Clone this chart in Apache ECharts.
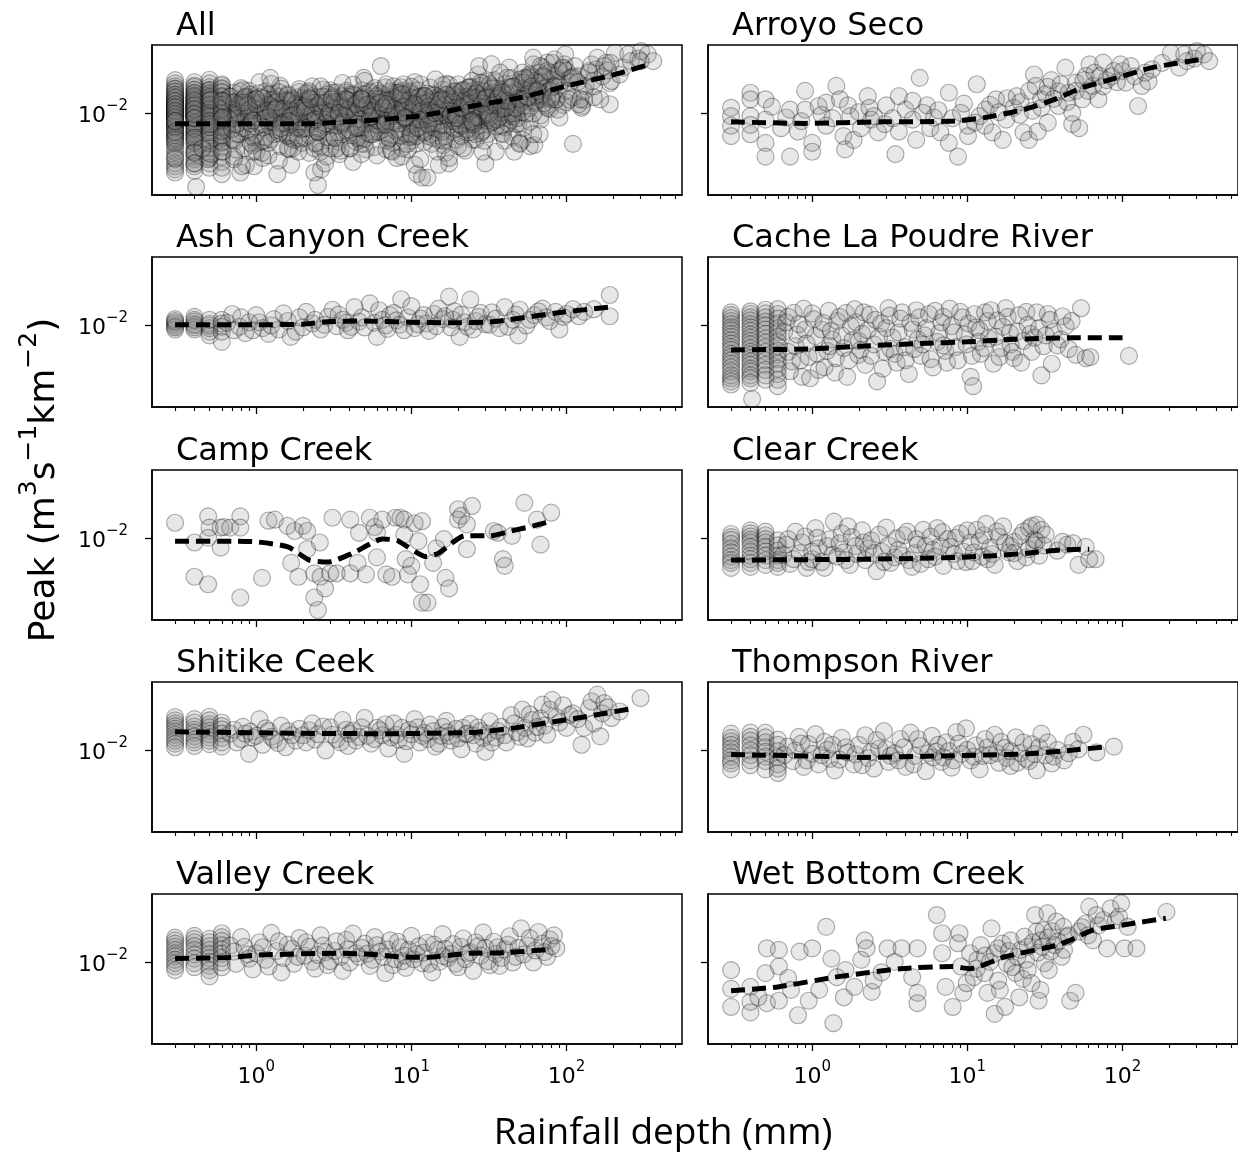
<!DOCTYPE html>
<html><head><meta charset="utf-8">
<script src="https://cdn.jsdelivr.net/npm/echarts@6/dist/echarts.min.js"></script>
<style>html,body{margin:0;padding:0;background:#fff}#c{width:1238px;height:1152px}</style>
</head><body><div id="c"></div>
<script>
// ---------- labels ----------
const panelTitles = ['All','Arroyo Seco','Ash Canyon Creek','Cache La Poudre River','Camp Creek','Clear Creek','Shitike Ceek','Thompson River','Valley Creek','Wet Bottom Creek'];
const xMajorTicks = [1, 10, 100];
const xTickExponents = ['0', '1', '2'];
const xMinorTicks = [0.3,0.4,0.5,0.6,0.7,0.8,0.9,2,3,4,5,6,7,8,9,20,30,40,50,60,70,80,90,200,300,400,500];
const yTicks = [0.01];
const yTickExponents = ['−2'];
const xTitle = 'Rainfall depth (mm)';
const yTitleRich = '{b|Peak (m}{s|3}{b|s}{s|−1}{b|km}{s|−2}{b|)}';

// ---------- station data: [rainfall depth (mm), peak] ----------
const arroyoSeco = [[0.3,0.0108],[0.3,0.0082],[0.3,0.0070],[0.3,0.0095],[0.4,0.0136],[0.4,0.0123],[0.4,0.0095],[0.4,0.0072],[0.4,0.0083],[0.5,0.0123],[0.5,0.0063],[0.5,0.0051],[0.5,0.0090],[0.55,0.0110],
[0.63,0.0079],[0.68,0.0093],[0.72,0.0105],[0.72,0.0051],[0.81,0.0075],[0.85,0.0088],[0.9,0.0105],[0.9,0.0140],[1.0,0.0063],[1.0,0.0055],[1.1,0.0111],[1.15,0.0097],[1.23,0.0117],[1.23,0.0082],
[1.35,0.0092],[1.43,0.0151],[1.51,0.0123],[1.59,0.0070],[1.63,0.0057],[1.7,0.0112],[1.76,0.0095],[1.85,0.0066],[2.0,0.0101],[2.06,0.0079],[2.28,0.0129],[2.34,0.0108],[2.4,0.0090],[2.5,0.0095],[2.66,0.0074],
[2.94,0.0084],[3.0,0.0112],[3.3,0.0092],[3.44,0.0053],[3.62,0.0129],[3.62,0.0075],[4.0,0.0105],[4.44,0.0120],[4.44,0.0090],[4.93,0.0171],[4.68,0.0066],[5.2,0.0100],[5.5,0.0112],[5.76,0.0079],[6.1,0.0093],
[6.5,0.0104],[6.7,0.0074],[7.6,0.0136],[7.6,0.0063],[8.0,0.0092],[8.7,0.0051],[9.1,0.0100],[9.5,0.0115],[10.1,0.0082],[10.1,0.0070],[11.2,0.0086],[11.5,0.0155],[12,0.0095],[13.1,0.0105],[13,0.0082],
[14,0.0113],[14.5,0.0074],[15.3,0.0123],[16,0.0101],[16.9,0.0066],[17.8,0.0090],[18,0.0125],[19.8,0.0108],[20.8,0.0129],[21.8,0.0097],[22,0.0118],[23,0.0074],[24.9,0.0066],[25,0.0140],[26.3,0.0103],[26.9,0.0180],
[27.6,0.0151],[28.4,0.0075],[29.9,0.0123],[30,0.0108],[32,0.0133],[33,0.0086],[33,0.0149],[34.8,0.0165],[36,0.0124],[38.6,0.0111],[38.6,0.0139],[40,0.0155],[42.8,0.0200],[44,0.0118],[45,0.0136],[47.4,0.0084],
[47.4,0.0100],[50,0.0159],[50,0.0140],[52.6,0.0079],[55,0.0123],[56,0.0165],[58,0.0176],[60,0.0140],[61.3,0.0210],[64.5,0.0151],[66,0.0185],[70,0.0123],[71.6,0.0176],[75,0.0216],[75,0.0150],[79,0.0165],
[85,0.0175],[88,0.0190],[92,0.0160],[97,0.0210],[100,0.0190],[105,0.0159],[113,0.0205],[120,0.0175],[126,0.0111],[133,0.0151],[140,0.0185],[147,0.0162],[155,0.0195],[180,0.0215],[205,0.0251],
[232,0.0200],[250,0.0245],[260,0.0221],[290,0.0230],[302,0.0258],[334,0.0245],[362,0.0221]];

const ashCanyon = [[0.3,0.0104],[0.3,0.0098],[0.3,0.0093],[0.3,0.0109],[0.3,0.0101],[0.3,0.0096],[0.3,0.0106],[0.4,0.0113],[0.4,0.0105],[0.4,0.0099],[0.4,0.0093],[0.4,0.0101],[0.4,0.0096],[0.4,0.0108],
[0.5,0.0102],[0.5,0.0090],[0.5,0.0085],[0.5,0.0095],[0.5,0.0099],[0.5,0.0108],[0.6,0.0108],[0.6,0.0097],[0.6,0.0077],[0.6,0.0102],[0.6,0.0090],[0.65,0.0103],[0.7,0.0118],[0.72,0.0092],[0.78,0.0097],
[0.8,0.0112],[0.85,0.0088],[0.9,0.0104],[0.95,0.0092],[1.0,0.0116],[1.05,0.0104],[1.1,0.0095],[1.2,0.0087],[1.25,0.0099],[1.3,0.0109],[1.4,0.0093],[1.5,0.0119],[1.6,0.0106],[1.67,0.0083],[1.8,0.0090],
[1.9,0.0112],[2.0,0.0096],[2.1,0.0122],[2.3,0.0102],[2.4,0.0108],[2.6,0.0093],[2.75,0.0100],[2.9,0.0113],[3.1,0.0126],[3.3,0.0098],[3.4,0.0117],[3.6,0.0108],[3.8,0.0103],[3.9,0.0092],[4.1,0.0097],
[4.3,0.0131],[4.6,0.0105],[4.8,0.0112],[5.0,0.0096],[5.4,0.0139],[5.8,0.0103],[6.0,0.0083],[6.2,0.0125],[6.5,0.0108],[6.8,0.0099],[7.0,0.0094],[7.3,0.0116],[7.7,0.0120],[8.0,0.0107],[8.4,0.0100],
[8.6,0.0148],[9.0,0.0092],[9.5,0.0112],[10,0.0133],[10.5,0.0095],[11,0.0101],[11.5,0.0110],[12,0.0116],[12.5,0.0102],[13,0.0091],[14,0.0118],[14.5,0.0098],[15,0.0128],[16,0.0109],[16.5,0.0114],
[17.5,0.0154],[18,0.0096],[18.5,0.0108],[19,0.0123],[20.5,0.0083],[21,0.0117],[22,0.0104],[23,0.0097],[24,0.0147],[25,0.0093],[26,0.0106],[27,0.0113],[28,0.0120],[30,0.0101],[32,0.0100],[33,0.0121],
[35,0.0110],[37,0.0095],[40,0.0131],[42,0.0097],[45,0.0108],[47,0.0117],[49,0.0085],[50,0.0126],[55,0.0099],[58,0.0108],[62,0.0116],[66,0.0123],[70,0.0128],[74,0.0112],[78,0.0106],[85,0.0122],
[90,0.0093],[95,0.0113],[100,0.0118],[110,0.0127],[120,0.0114],[130,0.0122],[150,0.0127],[190,0.0158],[190,0.0114]];

const cacheLaPoudre = [[0.3,0.0121],[0.3,0.0116],[0.3,0.0111],[0.3,0.0106],[0.3,0.0101],[0.3,0.0096],[0.3,0.0092],[0.3,0.0087],[0.3,0.0083],[0.3,0.0079],[0.3,0.0075],[0.3,0.0071],[0.3,0.0068],[0.3,0.0064],
[0.3,0.0061],[0.3,0.0058],[0.3,0.0055],[0.3,0.0052],[0.3,0.0049],[0.3,0.0046],[0.3,0.0044],[0.3,0.0042],[0.3,0.0040],
[0.4,0.0123],[0.4,0.0118],[0.4,0.0112],[0.4,0.0107],[0.4,0.0101],[0.4,0.0096],[0.4,0.0091],[0.4,0.0086],[0.4,0.0082],[0.4,0.0078],[0.4,0.0074],[0.4,0.0070],[0.4,0.0066],[0.4,0.0063],[0.4,0.0060],
[0.4,0.0057],[0.4,0.0054],[0.4,0.0051],[0.4,0.0049],[0.4,0.0046],[0.4,0.0044],[0.4,0.0041],[0.41,0.0032],
[0.5,0.0126],[0.5,0.0119],[0.5,0.0112],[0.5,0.0105],[0.5,0.0099],[0.5,0.0093],[0.5,0.0087],[0.5,0.0081],[0.5,0.0076],[0.5,0.0071],[0.5,0.0066],[0.5,0.0062],[0.5,0.0058],[0.5,0.0054],[0.5,0.0050],
[0.5,0.0046],[0.5,0.0043],
[0.6,0.0127],[0.6,0.0118],[0.6,0.0110],[0.6,0.0102],[0.6,0.0095],[0.6,0.0089],[0.6,0.0083],[0.6,0.0077],[0.6,0.0072],[0.6,0.0067],[0.6,0.0063],[0.6,0.0059],[0.6,0.0055],[0.6,0.0051],[0.6,0.0047],
[0.6,0.0043],[0.6,0.0039],
[0.66,0.0090],[0.68,0.0104],[0.7,0.0066],[0.7,0.0113],[0.72,0.0049],[0.74,0.0057],[0.76,0.0120],[0.78,0.0072],[0.8,0.0086],[0.82,0.0101],[0.84,0.0058],[0.86,0.0045],[0.88,0.0128],[0.9,0.0093],
[0.92,0.0075],[0.95,0.0061],[0.97,0.0044],[1.0,0.0119],[1.02,0.0109],[1.05,0.0084],[1.08,0.0064],[1.1,0.0050],[1.15,0.0093],[1.18,0.0103],[1.2,0.0052],[1.25,0.0067],[1.28,0.0124],[1.3,0.0072],
[1.32,0.0091],[1.35,0.0080],[1.4,0.0048],[1.42,0.0060],[1.45,0.0106],[1.5,0.0113],[1.55,0.0085],[1.6,0.0070],[1.65,0.0120],[1.68,0.0045],[1.72,0.0058],[1.78,0.0098],[1.82,0.0079],[1.88,0.0127],
[1.92,0.0104],[1.98,0.0063],[2.0,0.0078],[2.05,0.0068],[2.1,0.0087],[2.15,0.0121],[2.2,0.0054],[2.28,0.0092],[2.35,0.0117],[2.4,0.0062],[2.5,0.0074],[2.55,0.0108],[2.62,0.0042],[2.7,0.0083],
[2.78,0.0102],[2.85,0.0051],[2.95,0.0066],[3.0,0.0095],[3.1,0.0129],[3.15,0.0115],[3.2,0.0069],[3.3,0.0082],[3.4,0.0064],[3.5,0.0056],[3.6,0.0089],[3.7,0.0110],[3.8,0.0121],[3.95,0.0071],
[4.0,0.0058],[4.2,0.0047],[4.3,0.0103],[4.45,0.0093],[4.55,0.0069],[4.7,0.0125],[4.8,0.0080],[4.9,0.0112],[5.0,0.0062],[5.15,0.0074],[5.3,0.0085],[5.45,0.0095],[5.65,0.0118],[5.8,0.0059],
[6.0,0.0052],[6.2,0.0124],[6.4,0.0077],[6.6,0.0088],[6.8,0.0104],[7.0,0.0073],[7.0,0.0113],[7.2,0.0067],[7.4,0.0056],[7.7,0.0128],[7.9,0.0098],[8.2,0.0089],[8.4,0.0071],[8.7,0.0058],[9.0,0.0122],
[9.3,0.0112],[9.6,0.0086],[9.9,0.0074],[10.2,0.0102],[10.5,0.0045],[10.7,0.0062],[10.9,0.0039],[11.1,0.0118],[11.4,0.0096],[11.8,0.0077],[12,0.0092],[12.2,0.0064],[12.8,0.0070],[13,0.0121],
[13.5,0.0106],[13.8,0.0081],[14.2,0.0125],[14.7,0.0055],[15.2,0.0083],[15.6,0.0107],[16.1,0.0061],[16.6,0.0070],[17,0.0097],[17.7,0.0129],[18.2,0.0113],[18.8,0.0088],[19,0.0074],[19.5,0.0066],
[20,0.0060],[21,0.0090],[21.5,0.0116],[22.2,0.0056],[23,0.0078],[24,0.0122],[24.5,0.0100],[25.5,0.0087],[26,0.0066],[27,0.0082],[28,0.0121],[29,0.0095],[30,0.0046],[31,0.0072],[32,0.0085],
[33,0.0118],[34,0.0108],[35,0.0055],[36,0.0090],[38,0.0073],[40,0.0080],[41,0.0114],[43,0.0098],[45,0.0069],[47,0.0106],[50,0.0063],[54,0.0129],[58,0.0060],[62,0.0061],[110,0.0062]];

const campCreek = [[0.3,0.0126],[0.4,0.0093],[0.4,0.0055],[0.49,0.0139],[0.49,0.0100],[0.49,0.0049],[0.5,0.0117],[0.59,0.0117],[0.59,0.0086],[0.62,0.0118],[0.68,0.0117],[0.79,0.0139],
[0.79,0.0117],[0.79,0.0040],[1.09,0.0054],[1.2,0.0130],[1.32,0.0132],[1.59,0.0120],[1.68,0.0068],[1.77,0.0111],[1.87,0.0055],[2.0,0.0120],[2.13,0.0111],[2.13,0.0084],[2.37,0.0058],
[2.37,0.0040],[2.5,0.0033],[2.57,0.0093],[2.6,0.0055],[2.78,0.0046],[3.0,0.0058],[3.1,0.0136],[3.3,0.0058],[4.04,0.0132],[4.04,0.0058],[4.5,0.0068],[4.6,0.0108],[5.1,0.0057],
[5.4,0.0136],[5.8,0.0118],[6.0,0.0074],[6.0,0.0108],[6.5,0.0132],[6.9,0.0057],[7.5,0.0055],[7.9,0.0136],[8.5,0.0136],[9.0,0.0132],[9.0,0.0105],[9.2,0.0072],[9.5,0.0057],[10,0.0065],
[10.5,0.0125],[11.1,0.0095],[11.4,0.0049],[11.7,0.0129],[11.7,0.0037],[12.7,0.0037],[13.8,0.0068],[14.5,0.0085],[16.2,0.0098],[16.6,0.0054],[17.5,0.0046],[20,0.0155],[20,0.0132],
[21,0.0140],[22.8,0.0123],[22.8,0.0084],[24.6,0.0163],[34,0.0111],[36,0.0108],[38.9,0.0072],[40,0.0065],[44.5,0.0103],[53.5,0.0171],[64.5,0.0132],[68,0.0090],[79.6,0.0147]];

const clearCreek = [[0.3,0.0106],[0.3,0.0101],[0.3,0.0097],[0.3,0.0091],[0.3,0.0085],[0.3,0.0080],[0.3,0.0075],[0.3,0.0071],[0.3,0.0068],[0.3,0.0063],
[0.4,0.0112],[0.4,0.0107],[0.4,0.0102],[0.4,0.0097],[0.4,0.0093],[0.4,0.0087],[0.4,0.0081],[0.4,0.0076],[0.4,0.0072],[0.4,0.0068],[0.4,0.0064],
[0.5,0.0110],[0.5,0.0104],[0.5,0.0098],[0.5,0.0093],[0.5,0.0087],[0.5,0.0081],[0.5,0.0076],[0.5,0.0071],[0.5,0.0066],
[0.6,0.0096],[0.6,0.0089],[0.6,0.0082],[0.6,0.0076],[0.6,0.0071],[0.6,0.0068],[0.6,0.0064],
[0.65,0.0077],[0.68,0.0090],[0.7,0.0098],[0.72,0.0067],[0.76,0.0072],[0.78,0.0110],[0.83,0.0079],[0.86,0.0093],[0.9,0.0102],[0.92,0.0063],[0.95,0.0069],[1.0,0.0072],[1.0,0.0081],
[1.05,0.0116],[1.08,0.0100],[1.1,0.0085],[1.15,0.0069],[1.2,0.0063],[1.25,0.0088],[1.3,0.0098],[1.35,0.0077],[1.38,0.0128],[1.45,0.0075],[1.5,0.0092],[1.55,0.0107],[1.6,0.0080],
[1.65,0.0071],[1.7,0.0119],[1.75,0.0066],[1.8,0.0101],[1.9,0.0088],[1.95,0.0078],[2.1,0.0112],[2.15,0.0093],[2.2,0.0071],[2.3,0.0085],[2.4,0.0096],[2.5,0.0079],[2.6,0.0060],
[2.7,0.0105],[2.8,0.0081],[2.9,0.0069],[3.0,0.0117],[3.1,0.0089],[3.2,0.0068],[3.4,0.0074],[3.5,0.0099],[3.6,0.0083],[3.8,0.0076],[3.9,0.0104],[4.1,0.0110],[4.2,0.0071],[4.4,0.0064],
[4.6,0.0079],[4.7,0.0098],[4.8,0.0090],[5.0,0.0067],[5.2,0.0113],[5.4,0.0088],[5.6,0.0072],[5.8,0.0102],[6.0,0.0083],[6.2,0.0075],[6.4,0.0116],[6.7,0.0088],[6.9,0.0109],[7.0,0.0065],
[7.5,0.0098],[7.8,0.0087],[8.2,0.0078],[8.4,0.0100],[8.6,0.0070],[9.0,0.0107],[9.4,0.0081],[9.8,0.0069],[10,0.0112],[10.5,0.0093],[10.8,0.0070],[11,0.0080],[11.5,0.0113],[12,0.0095],
[12.5,0.0075],[12.8,0.0104],[13.2,0.0124],[13.5,0.0072],[14,0.0086],[14.5,0.0078],[15,0.0066],[15.5,0.0110],[16,0.0102],[17,0.0119],[17.5,0.0092],[18.5,0.0080],[19,0.0088],[20,0.0094],
[20,0.0079],[21,0.0070],[22,0.0103],[23,0.0110],[24,0.0074],[25,0.0084],[25,0.0116],[26,0.0120],[27,0.0097],[27,0.0089],[28,0.0122],[28,0.0095],[29,0.0076],[30,0.0113],[31,0.0089],
[32,0.0105],[38,0.0082],[41,0.0094],[44,0.0090],[48,0.0092],[52,0.0066],[58,0.0087],[61,0.0072],[67,0.0072]];

const shitikeCreek = [[0.3,0.0165],[0.3,0.0157],[0.3,0.0150],[0.3,0.0144],[0.3,0.0138],[0.3,0.0132],[0.3,0.0126],[0.3,0.0120],[0.3,0.0115],[0.3,0.0110],[0.3,0.0104],
[0.4,0.0160],[0.4,0.0152],[0.4,0.0143],[0.4,0.0136],[0.4,0.0130],[0.4,0.0123],[0.4,0.0117],[0.4,0.0112],[0.4,0.0106],
[0.5,0.0166],[0.5,0.0157],[0.5,0.0148],[0.5,0.0141],[0.5,0.0134],[0.5,0.0127],[0.5,0.0121],[0.5,0.0115],[0.5,0.0109],
[0.6,0.0152],[0.6,0.0144],[0.6,0.0137],[0.6,0.0128],[0.6,0.0120],[0.6,0.0112],[0.6,0.0105],
[0.68,0.0128],[0.72,0.0136],[0.75,0.0112],[0.8,0.0118],[0.82,0.0142],[0.85,0.0128],[0.9,0.0094],[0.92,0.0132],[0.95,0.0121],[1.0,0.0124],[1.05,0.0160],[1.1,0.0108],[1.15,0.0139],
[1.2,0.0133],[1.25,0.0122],[1.3,0.0117],[1.38,0.0111],[1.45,0.0145],[1.55,0.0104],[1.6,0.0133],[1.7,0.0125],[1.8,0.0115],[1.9,0.0138],[2.0,0.0125],[2.1,0.0112],[2.2,0.0135],[2.3,0.0150],
[2.4,0.0117],[2.5,0.0127],[2.7,0.0143],[2.8,0.0099],[3.0,0.0141],[3.1,0.0126],[3.3,0.0118],[3.5,0.0112],[3.6,0.0158],[3.8,0.0136],[3.9,0.0106],[4.0,0.0128],[4.2,0.0134],[4.4,0.0115],
[4.6,0.0122],[4.8,0.0141],[5.0,0.0163],[5.2,0.0124],[5.5,0.0110],[5.8,0.0118],[6.0,0.0140],[6.3,0.0135],[6.5,0.0125],[6.8,0.0148],[7.1,0.0102],[7.4,0.0121],[7.7,0.0150],[8.0,0.0126],
[8.3,0.0117],[8.7,0.0140],[9.0,0.0094],[9.3,0.0114],[9.7,0.0136],[10,0.0127],[10.5,0.0160],[11,0.0141],[11.3,0.0112],[11.8,0.0124],[12.2,0.0129],[12.8,0.0118],[13.2,0.0147],[13.8,0.0133],
[14.3,0.0105],[15,0.0110],[15.5,0.0124],[16,0.0142],[16.8,0.0156],[17,0.0131],[17.5,0.0124],[18,0.0115],[19.5,0.0138],[20,0.0119],[21,0.0101],[21.5,0.0140],[22.5,0.0127],[23,0.0128],
[24,0.0149],[25,0.0125],[26,0.0110],[27,0.0141],[28,0.0133],[29,0.0120],[30,0.0097],[31,0.0128],[32,0.0155],[33,0.0112],[35,0.0121],[36,0.0134],[38,0.0142],[40,0.0125],[41,0.0112],
[44,0.0170],[46,0.0150],[48,0.0131],[50,0.0122],[52,0.0185],[54,0.0140],[56,0.0119],[58,0.0172],[60,0.0158],[63,0.0130],[65,0.0142],[68,0.0162],[70,0.0200],[72,0.0145],[75,0.0126],
[78,0.0185],[81,0.0215],[86,0.0165],[90,0.0152],[95,0.0198],[100,0.0140],[105,0.0170],[110,0.0175],[118,0.0160],[125,0.0108],[130,0.0140],[140,0.0190],[145,0.0210],[150,0.0150],
[158,0.0233],[165,0.0123],[170,0.0175],[175,0.0205],[185,0.0192],[195,0.0163],[220,0.0180],[300,0.0221]];

const thompsonRiver = [[0.3,0.0128],[0.3,0.0120],[0.3,0.0114],[0.3,0.0108],[0.3,0.0102],[0.3,0.0096],[0.3,0.0090],[0.3,0.0085],[0.3,0.0081],[0.3,0.0074],
[0.4,0.0130],[0.4,0.0122],[0.4,0.0115],[0.4,0.0107],[0.4,0.0099],[0.4,0.0092],[0.4,0.0085],[0.4,0.0079],
[0.5,0.0130],[0.5,0.0121],[0.5,0.0112],[0.5,0.0104],[0.5,0.0097],[0.5,0.0090],[0.5,0.0084],[0.5,0.0074],
[0.6,0.0117],[0.6,0.0108],[0.6,0.0098],[0.6,0.0089],[0.6,0.0080],[0.6,0.0075],[0.6,0.0070],
[0.66,0.0092],[0.7,0.0105],[0.75,0.0084],[0.78,0.0099],[0.82,0.0122],[0.85,0.0110],[0.88,0.0077],[0.92,0.0085],[0.95,0.0109],[1.0,0.0094],[1.05,0.0127],[1.1,0.0080],[1.15,0.0092],
[1.2,0.0113],[1.25,0.0100],[1.3,0.0087],[1.35,0.0108],[1.4,0.0073],[1.5,0.0086],[1.55,0.0120],[1.65,0.0104],[1.7,0.0096],[1.85,0.0080],[1.9,0.0093],[2.0,0.0108],[2.1,0.0079],[2.2,0.0125],
[2.3,0.0088],[2.4,0.0097],[2.5,0.0075],[2.6,0.0116],[2.7,0.0102],[2.9,0.0133],[3.0,0.0101],[3.1,0.0083],[3.2,0.0091],[3.4,0.0095],[3.6,0.0085],[3.7,0.0118],[3.9,0.0104],[4.0,0.0077],
[4.3,0.0130],[4.5,0.0080],[4.6,0.0091],[4.8,0.0118],[5.0,0.0106],[5.4,0.0072],[5.6,0.0095],[5.9,0.0124],[6.0,0.0089],[6.3,0.0097],[6.5,0.0108],[6.8,0.0083],[7.0,0.0089],[7.3,0.0112],
[7.6,0.0098],[7.9,0.0076],[8.2,0.0085],[8.5,0.0131],[8.8,0.0110],[9.2,0.0094],[9.8,0.0139],[10,0.0100],[10.5,0.0085],[11,0.0090],[11.3,0.0107],[12,0.0074],[12.5,0.0091],[13,0.0118],
[13.5,0.0104],[14,0.0092],[15,0.0126],[15.5,0.0095],[16,0.0082],[16.5,0.0113],[17.5,0.0103],[18,0.0088],[19,0.0078],[19,0.0098],[20.5,0.0121],[21,0.0082],[22,0.0095],[23,0.0112],
[24,0.0087],[25,0.0084],[26,0.0109],[27,0.0094],[28,0.0073],[29,0.0104],[30,0.0128],[32,0.0092],[33,0.0112],[35,0.0081],[36,0.0090],[38,0.0100],[42,0.0085],[45,0.0095],[48,0.0113],
[52,0.0101],[56,0.0126],[68,0.0096],[88,0.0105]];

const valleyCreek = [[0.3,0.0145],[0.3,0.0139],[0.3,0.0132],[0.3,0.0126],[0.3,0.0120],[0.3,0.0114],[0.3,0.0109],[0.3,0.0103],[0.3,0.0098],[0.3,0.0093],[0.3,0.0088],
[0.4,0.0149],[0.4,0.0142],[0.4,0.0135],[0.4,0.0127],[0.4,0.0120],[0.4,0.0112],[0.4,0.0105],[0.4,0.0098],[0.4,0.0092],
[0.5,0.0142],[0.5,0.0135],[0.5,0.0127],[0.5,0.0120],[0.5,0.0113],[0.5,0.0106],[0.5,0.0100],[0.5,0.0094],[0.5,0.0088],[0.5,0.0080],
[0.6,0.0155],[0.6,0.0146],[0.6,0.0138],[0.6,0.0129],[0.6,0.0121],[0.6,0.0113],[0.6,0.0106],[0.6,0.0099],[0.6,0.0092],
[0.68,0.0128],[0.72,0.0117],[0.74,0.0097],[0.8,0.0146],[0.84,0.0126],[0.88,0.0112],[0.9,0.0105],[0.95,0.0089],[1.0,0.0114],[1.05,0.0135],[1.1,0.0125],[1.15,0.0103],[1.2,0.0093],
[1.25,0.0156],[1.35,0.0118],[1.4,0.0137],[1.45,0.0085],[1.5,0.0106],[1.6,0.0130],[1.7,0.0122],[1.75,0.0097],[1.85,0.0108],[1.9,0.0144],[2.05,0.0110],[2.1,0.0135],[2.2,0.0126],
[2.3,0.0100],[2.4,0.0090],[2.5,0.0111],[2.6,0.0150],[2.7,0.0128],[2.8,0.0116],[2.9,0.0095],[3.0,0.0101],[3.2,0.0118],[3.3,0.0137],[3.5,0.0108],[3.6,0.0087],[3.8,0.0140],[3.9,0.0121],
[4.0,0.0099],[4.2,0.0154],[4.4,0.0114],[4.6,0.0108],[4.8,0.0124],[5.0,0.0132],[5.2,0.0113],[5.4,0.0094],[5.6,0.0103],[5.8,0.0146],[6.0,0.0129],[6.3,0.0117],[6.6,0.0108],[6.8,0.0084],
[7.0,0.0121],[7.3,0.0139],[7.6,0.0095],[7.9,0.0104],[8.2,0.0136],[8.5,0.0125],[8.8,0.0101],[9.0,0.0110],[9.2,0.0091],[9.6,0.0120],[10,0.0149],[10.4,0.0104],[10.8,0.0113],[11.2,0.0127],
[11.7,0.0098],[12,0.0115],[12.6,0.0134],[13,0.0097],[13.6,0.0085],[14,0.0130],[14.7,0.0120],[15.2,0.0100],[15.9,0.0153],[16,0.0109],[16.5,0.0122],[17.2,0.0106],[18,0.0113],[18.6,0.0131],
[19.3,0.0097],[20,0.0092],[20.8,0.0126],[21.6,0.0143],[22.4,0.0104],[23.3,0.0114],[24,0.0116],[25,0.0087],[26,0.0135],[27,0.0127],[28,0.0110],[29,0.0157],[30,0.0124],[31,0.0101],
[32,0.0095],[34,0.0136],[35,0.0113],[36,0.0125],[37,0.0094],[38,0.0106],[40,0.0121],[42,0.0130],[43,0.0148],[45,0.0099],[47,0.0108],[49,0.0124],[51,0.0167],[53,0.0112],[56,0.0128],
[58,0.0144],[61,0.0099],[63,0.0119],[66,0.0158],[70,0.0132],[72,0.0116],[75,0.0108],[78,0.0141],[80,0.0127],[83,0.0150],[86,0.0123]];

const wetBottomCreek = [[0.3,0.0088],[0.3,0.0066],[0.3,0.0050],[0.4,0.0068],[0.4,0.0054],[0.4,0.0046],[0.45,0.0058],[0.5,0.0084],[0.51,0.0123],[0.51,0.0053],[0.61,0.0120],[0.61,0.0093],
[0.61,0.0055],[0.7,0.0078],[0.73,0.0065],[0.81,0.0044],[0.83,0.0117],[0.95,0.0055],[1.0,0.0123],[1.11,0.0065],[1.23,0.0171],[1.33,0.0105],[1.37,0.0039],[1.44,0.0079],
[1.6,0.0058],[1.64,0.0088],[1.87,0.0068],[2.07,0.0103],[2.18,0.0139],[2.24,0.0123],[2.42,0.0063],[2.49,0.0075],[2.8,0.0085],[3.06,0.0123],[3.4,0.0100],[3.77,0.0123],[4.41,0.0079],
[4.77,0.0123],[4.77,0.0062],[4.77,0.0053],[6.36,0.0205],[6.88,0.0155],[6.88,0.0114],[7.24,0.0068],[8.05,0.0050],[8.7,0.0133],[8.9,0.0155],[9.1,0.0093],
[9.4,0.0062],[9.9,0.0072],[10.4,0.0114],[11,0.0079],[11.5,0.0090],[11.6,0.0103],[12.2,0.0129],[12.9,0.0084],[13,0.0110],[13.5,0.0062],[14,0.0100],[14.3,0.0167],[15,0.0045],[15,0.0114],[15.8,0.0123],
[15.8,0.0075],[16.2,0.0065],[16.8,0.0132],[17.5,0.0050],[18,0.0097],[18.5,0.0118],[19,0.0139],[19.5,0.0092],[20.5,0.0084],[21,0.0108],[21.6,0.0058],[22,0.0120],[22.8,0.0077],[23.3,0.0147],[23.9,0.0103],[24.5,0.0126],
[24.5,0.0088],[25.9,0.0072],[26.5,0.0135],[27.3,0.0205],[28,0.0159],[28.5,0.0115],[28.8,0.0055],[29.6,0.0139],[29.6,0.0065],[30.4,0.0126],[31,0.0162],[31.5,0.0098],[32.8,0.0211],[33,0.0145],[33.5,0.0088],[34.4,0.0117],
[35,0.0160],[36.5,0.0129],[37.4,0.0185],[38.5,0.0137],[40.5,0.0108],[41.6,0.0171],[42,0.0120],[43.8,0.0147],[45,0.0150],[46,0.0055],[49.8,0.0062],[52.5,0.0159],[55,0.0170],[58,0.0180],[60,0.0150],[61,0.0233],[64.5,0.0139],
[68,0.0205],[70,0.0175],[75,0.0190],[79.5,0.0123],[83.8,0.0227],[90.5,0.0190],[95,0.0200],[98,0.0245],[103,0.0123],[108,0.0171],[123,0.0123],[192,0.0215]];

// "All" panel = every station pooled
const allStations = [].concat(arroyoSeco, ashCanyon, cacheLaPoudre, campCreek, clearCreek, shitikeCreek, thompsonRiver, valleyCreek, wetBottomCreek);

// ---------- dashed trend lines ----------
const trendAll = [[0.3,0.00845],[0.6,0.00845],[1,0.00845],[2,0.00845],[3,0.00858],[5,0.00885],[10,0.0094],[15,0.0100],[20,0.0106],[30,0.0115],[50,0.0126],[100,0.0151],[200,0.0179],[350,0.0212]];
const trendArroyo = [[0.3,0.0087],[0.9,0.0085],[2.8,0.0087],[8.3,0.0088],[13,0.0093],[23,0.0105],[36.6,0.0123],[55,0.0147],[92,0.0171],[155,0.0200],[318,0.0227]];
const trendAsh = [[0.3,0.0100],[1,0.0100],[2,0.0101],[3,0.0105],[5,0.0106],[10,0.0104],[18,0.0103],[34,0.0105],[86,0.0120],[185,0.0131]];
const trendCache = [[0.3,0.0068],[1,0.0069],[2,0.0072],[5,0.0075],[10,0.0077],[20,0.0080],[50,0.0082],[100,0.0082]];
const trendCamp = [[0.3,0.0095],[0.7,0.0095],[1.0,0.0094],[1.6,0.0087],[2.2,0.0071],[2.9,0.0069],[4.2,0.0079],[6.5,0.0098],[8.1,0.0096],[12.4,0.0075],[15,0.0079],[22,0.0103],[32,0.0103],[44,0.0111],[61,0.0120],[80,0.0129]];
const trendClear = [[0.3,0.0071],[2.4,0.0072],[8.8,0.0074],[14.6,0.0076],[24.4,0.0079],[40.6,0.0083],[61,0.0084]];
const trendShitike = [[0.3,0.0132],[1.6,0.0129],[7.4,0.0128],[26.4,0.0131],[44,0.0139],[74,0.0151],[123,0.0164],[277,0.0190]];
const trendThompson = [[0.3,0.0093],[1.46,0.0090],[2.1,0.0089],[6.8,0.0091],[24.4,0.0094],[40.6,0.0098],[81,0.0105]];
const trendValley = [[0.3,0.0105],[0.66,0.0107],[1.05,0.0111],[3.4,0.0114],[5.7,0.0112],[8.1,0.0108],[12.3,0.0107],[23.8,0.0114],[40,0.0115],[79.5,0.0121]];
const trendWetBottom = [[0.3,0.0064],[0.6,0.0068],[1.4,0.0079],[3.7,0.0090],[8,0.0093],[10.4,0.0090],[17.5,0.0108],[38,0.0129],[45,0.0138],[65,0.0163],[108,0.0178],[190,0.0195]];

const panelPoints = [allStations, arroyoSeco, ashCanyon, cacheLaPoudre, campCreek, clearCreek, shitikeCreek, thompsonRiver, valleyCreek, wetBottomCreek];
const panelTrends = [trendAll, trendArroyo, trendAsh, trendCache, trendCamp, trendClear, trendShitike, trendThompson, trendValley, trendWetBottom];

// ---------- layout ----------
const colLeft = [152, 708];
const rowTop = [45, 257, 470, 682, 894];
const W = 530, H = 150;
const X_MIN = 0.213, X_MAX = 555;
const Y_MIN = 0.002831, Y_MAX = 0.02831;
const FAM = '"DejaVu Sans", sans-serif';
const tickRich = {
  b: {fontFamily: FAM, fontSize: 22, color: '#000', padding: [6, 0, 0, 0]},
  s: {fontFamily: FAM, fontSize: 15, color: '#000', verticalAlign: 'top'}
};

const grids = [], xAxes = [], yAxes = [], series = [], graphics = [];
panelTitles.forEach((t, i) => {
  const col = i % 2, row = Math.floor(i / 2);
  const left = colLeft[col], top = rowTop[row];
  grids.push({left: left, top: top, width: W, height: H, show: true, borderColor: '#000', borderWidth: 1.5, backgroundColor: 'transparent'});
  const bottomRow = row === 4;
  xAxes.push({
    type: 'log', gridIndex: i, min: X_MIN, max: X_MAX, position: 'bottom',
    axisLine: {show: true, onZero: false, lineStyle: {color: '#000', width: 1.5}},
    axisTick: {show: true, customValues: xMajorTicks, length: 7, lineStyle: {color: '#000', width: 1.3}},
    axisLabel: {show: bottomRow, customValues: xMajorTicks, margin: 16, rich: tickRich,
      formatter: v => '{b|10}{s|' + (xTickExponents[Math.round(Math.log10(v))] || '') + '}'},
    splitLine: {show: false}, minorTick: {show: false}
  });
  xAxes.push({
    type: 'log', gridIndex: i, min: X_MIN, max: X_MAX, position: 'bottom',
    axisLine: {show: false},
    axisTick: {show: true, customValues: xMinorTicks, length: 4, lineStyle: {color: '#000', width: 1.1}},
    axisLabel: {show: false}, splitLine: {show: false}
  });
  yAxes.push({
    type: 'log', gridIndex: i, min: Y_MIN, max: Y_MAX,
    axisLine: {show: true, onZero: false, lineStyle: {color: '#000', width: 1.5}},
    axisTick: {show: true, customValues: yTicks, length: 7, lineStyle: {color: '#000', width: 1.3}},
    axisLabel: {show: col === 0, customValues: yTicks, margin: 24, rich: tickRich,
      formatter: v => '{b|10}{s|' + yTickExponents[0] + '}'},
    splitLine: {show: false}, minorTick: {show: false}
  });
  series.push({
    type: 'scatter', xAxisIndex: 2 * i, yAxisIndex: i, data: panelPoints[i], symbolSize: 17,
    itemStyle: {color: 'rgba(128,128,128,0.24)', borderColor: 'rgba(0,0,0,0.38)', borderWidth: 1.2},
    silent: true, z: 2
  });
  series.push({
    type: 'line', xAxisIndex: 2 * i, yAxisIndex: i, data: panelTrends[i], showSymbol: false, symbol: 'none',
    smooth: 0.2, lineStyle: {color: '#000', width: 5, type: [14, 7], cap: 'butt'}, silent: true, z: 5
  });
  graphics.push({type: 'text', left: left + 24, top: top - 34,
    style: {text: t, font: '32px ' + FAM, fill: '#000'}});
});
graphics.push({type: 'text', x: 40, y: 480, rotation: Math.PI / 2,
  style: {text: yTitleRich, align: 'center', verticalAlign: 'middle',
    rich: {b: {fontFamily: FAM, fontSize: 36, fill: '#000', padding: [10, 0, 0, 0]}, s: {fontFamily: FAM, fontSize: 25, fill: '#000', verticalAlign: 'top'}}}});
graphics.push({type: 'text', x: 663, y: 1133,
  style: {text: xTitle, font: '37px "Open Sans", sans-serif', fill: '#000', align: 'center', verticalAlign: 'middle'}});

const chart = echarts.init(document.getElementById('c'), null, {renderer: 'canvas'});
chart.setOption({
  animation: false, backgroundColor: '#fff',
  grid: grids, xAxis: xAxes, yAxis: yAxes, series: series, graphic: graphics
});
</script></body></html>
